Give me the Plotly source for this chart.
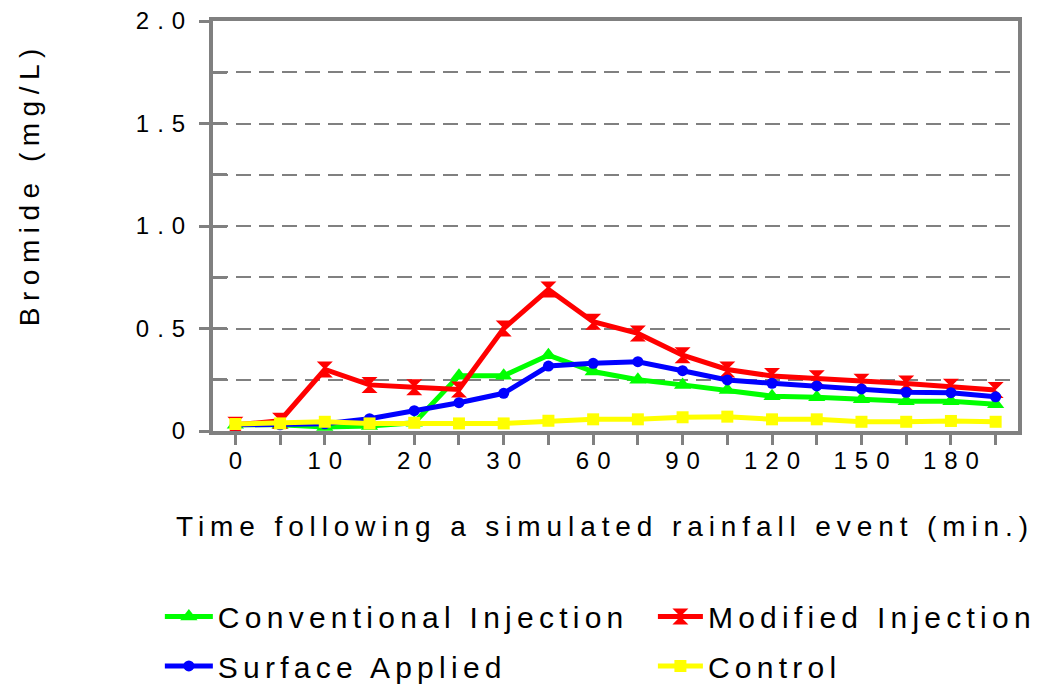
import plotly.graph_objects as go

# Sampling times (min.) after the simulated rainfall event
times = ["0", "5", "10", "15", "20", "25", "30", "45", "60", "75",
         "90", "105", "120", "135", "150", "165", "180", "195"]
# Only every other sampling time is labelled on the axis
time_labels = ["0", "", "10", "", "20", "", "30", "", "60", "",
               "90", "", "120", "", "150", "", "180", ""]

# Bromide concentration (mg/L)
conventional = [0.03, 0.03, 0.02, 0.025, 0.04, 0.27, 0.27, 0.37, 0.29, 0.25,
                0.225, 0.20, 0.17, 0.165, 0.155, 0.145, 0.145, 0.13]
modified = [0.03, 0.05, 0.30, 0.225, 0.213, 0.203, 0.50, 0.69, 0.533, 0.476,
            0.37, 0.30, 0.268, 0.257, 0.24, 0.232, 0.216, 0.20]
surface = [0.03, 0.03, 0.035, 0.06, 0.099, 0.138, 0.184, 0.317, 0.33, 0.338,
           0.294, 0.249, 0.233, 0.22, 0.205, 0.189, 0.187, 0.167]
control = [0.034, 0.037, 0.045, 0.037, 0.04, 0.037, 0.037, 0.05, 0.057, 0.057,
           0.067, 0.07, 0.057, 0.057, 0.045, 0.045, 0.049, 0.045]

y_ticks = [0, 0.5, 1.0, 1.5, 2.0]
y_tick_labels = ["0", "0.5", "1.0", "1.5", "2.0"]

FONT = "Liberation Sans, Arial, sans-serif"
AXIS_GREY = "#808080"


def spaced(text, px):
    """Letter-spaced text, without trailing space after the last glyph."""
    if len(text) < 2:
        return text
    return f'<span style="letter-spacing:{px}px">{text[:-1]}</span>{text[-1]}'


# name, values, colour, marker symbol, marker size, legend id, legend x, legend y, item width
series = [
    ("Conventional Injection", conventional, "#00ff00", "triangle-up", 15, "legend", 0.154, 0.104, 48),
    ("Modified Injection", modified, "#ff0000", "hourglass", 16, "legend2", 0.629, 0.104, 45),
    ("Surface Applied", surface, "#0000ff", "circle", 11, "legend3", 0.154, 0.032, 48),
    ("Control", control, "#ffff00", "square", 12, "legend4", 0.629, 0.032, 45),
]

fig = go.Figure()
legends = {}
for name, vals, color, symbol, size, leg, lx, ly, iw in series:
    fig.add_trace(go.Scatter(
        x=times, y=vals, name=spaced(name, 5.25), mode="lines+markers",
        line=dict(color=color, width=5),
        marker=dict(color=color, symbol=symbol, size=size),
        legend=leg,
    ))
    legends[leg] = dict(
        xref="container", yref="container", x=lx, y=ly,
        xanchor="left", yanchor="middle", orientation="h",
        font=dict(family=FONT, size=30, color="black"),
        bgcolor="rgba(0,0,0,0)", itemwidth=iw,
    )

fig.update_layout(
    width=1038, height=688,
    margin=dict(l=213, r=20, t=21, b=257),
    paper_bgcolor="white", plot_bgcolor="white",
    font=dict(family=FONT, color="black"),
    showlegend=True,
    **legends,
    xaxis=dict(
        type="category", range=[-0.5, 17.5], automargin=False,
        tickmode="array", tickvals=times,
        ticktext=[spaced(t, 8) for t in time_labels],
        ticks="outside", ticklen=10, tickwidth=3, tickcolor=AXIS_GREY,
        showline=True, linecolor=AXIS_GREY, linewidth=4, mirror=True,
        showgrid=False, zeroline=False,
        tickfont=dict(family=FONT, size=24, color="black"),
        ticklabelstandoff=-5,
    ),
    yaxis=dict(
        range=[0, 2], automargin=False,
        tickmode="array", tickvals=y_ticks,
        ticktext=[spaced(t, 8) for t in y_tick_labels],
        ticks="outside", ticklen=10, tickwidth=3, tickcolor=AXIS_GREY,
        showline=True, linecolor=AXIS_GREY, linewidth=4, mirror=True,
        showgrid=False, zeroline=False,
        tickfont=dict(family=FONT, size=24, color="black"),
        ticklabelstandoff=9,
    ),
    # overlay axis carrying the quarter-step dashed grid and inside ticks
    yaxis2=dict(
        overlaying="y", range=[0, 2], dtick=0.25, tick0=0, automargin=False,
        ticks="inside", ticklen=14, tickwidth=3, tickcolor=AXIS_GREY,
        showticklabels=False, showline=False, zeroline=False,
        showgrid=True, gridcolor=AXIS_GREY, gridwidth=2, griddash="15px,8px",
        layer="below traces",
    ),
)

# axis titles placed as annotations
fig.add_annotation(
    text=spaced("Time following a simulated rainfall event (min.)", 5.9),
    xref="paper", yref="paper", x=0.483, y=-0.234,
    xanchor="center", yanchor="middle", showarrow=False,
    font=dict(family=FONT, size=28, color="black"),
)
fig.add_annotation(
    text=spaced("Bromide (mg/L)", 6.5), textangle=-90,
    xref="paper", yref="paper", x=-0.227, y=0.593,
    xanchor="center", yanchor="middle", showarrow=False,
    font=dict(family=FONT, size=28, color="black"),
)

# invisible point that activates the overlay axis
fig.add_trace(go.Scatter(x=[times[0]], y=[0], yaxis="y2", mode="markers",
                         marker=dict(opacity=0), showlegend=False, hoverinfo="skip"))

fig.write_html("out.html")
